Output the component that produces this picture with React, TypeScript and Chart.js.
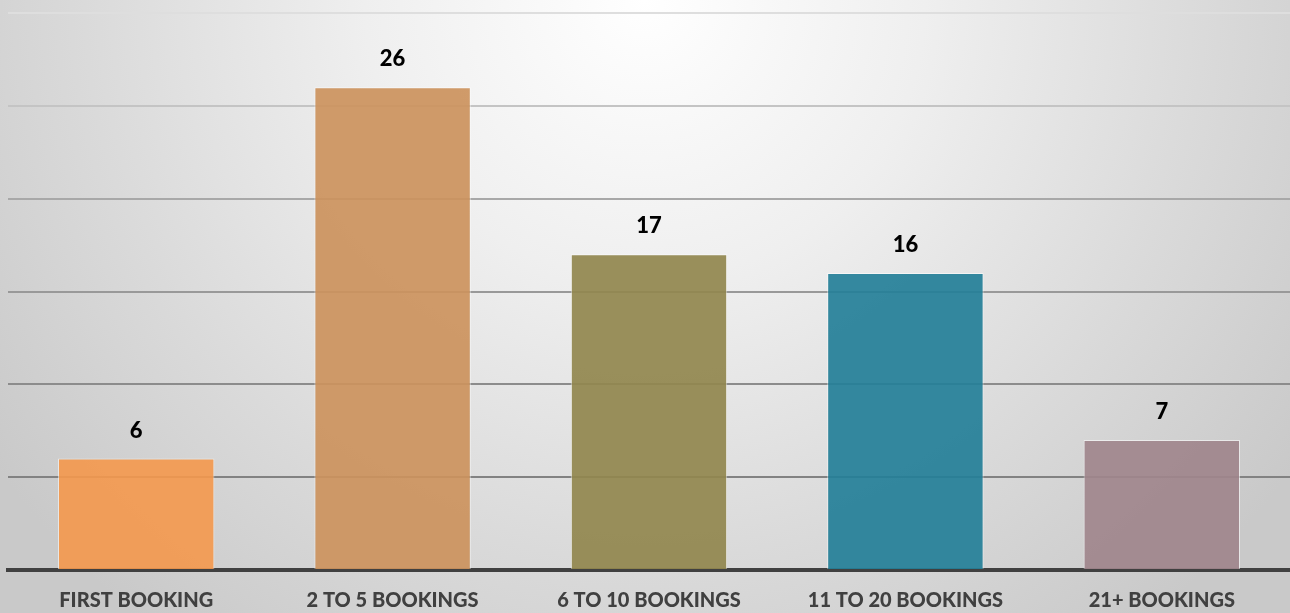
import React, { useEffect, useRef } from "react";
import { Chart, registerables } from "chart.js";

Chart.register(...registerables);

const categories = ["FIRST BOOKING", "2 TO 5 BOOKINGS", "6 TO 10 BOOKINGS", "11 TO 20 BOOKINGS", "21+ BOOKINGS"];
const values = [6, 26, 17, 16, 7];
const barColors = [
  "rgba(244,152,76,0.9)",
  "rgba(204,146,93,0.92)",
  "rgba(145,135,78,0.92)",
  "rgba(36,127,152,0.92)",
  "rgba(160,133,140,0.92)",
];
const yMax = 30;
const yStep = 5;

const bgPlugin = {
  id: "bgGradient",
  beforeDraw(chart: any) {
    const { ctx, width, height } = chart;
    ctx.save();
    const g = ctx.createRadialGradient(width / 2, 0, 0, width / 2, 0, width * 0.62);
    g.addColorStop(0, "#ffffff");
    g.addColorStop(0.35, "#efefef");
    g.addColorStop(0.7, "#dadada");
    g.addColorStop(1, "#c9c9c9");
    ctx.fillStyle = g;
    ctx.fillRect(0, 0, width, height);
    ctx.restore();
  },
};

const labelPlugin = {
  id: "valueLabels",
  afterDatasetsDraw(chart: any) {
    const { ctx } = chart;
    const meta = chart.getDatasetMeta(0);
    ctx.save();
    ctx.font = "900 22px Lato, 'Open Sans', sans-serif";
    ctx.fillStyle = "#000000";
    ctx.textAlign = "center";
    ctx.textBaseline = "middle";
    meta.data.forEach((bar: any, i: number) => {
      ctx.fillText(String(values[i]), bar.x, bar.y - 28);
    });
    ctx.restore();
  },
};

const gridColors: Record<number, string> = {
  0: "#404040",
  5: "#828282",
  10: "#8c8c8c",
  15: "#999999",
  20: "#a8a8a8",
  25: "#c4c4c4",
  30: "#dedede",
};

export default function App() {
  const ref = useRef<HTMLCanvasElement>(null);
  useEffect(() => {
    document.body.style.margin = "0";
    const chart = new Chart(ref.current!, {
      type: "bar",
      data: {
        labels: categories,
        datasets: [
          {
            data: values,
            backgroundColor: barColors,
            borderColor: "rgba(255,255,255,0.55)",
            borderWidth: 1,
            categoryPercentage: 1,
            barPercentage: 0.61,
          },
        ],
      },
      options: {
        animation: false,
        responsive: false,
        maintainAspectRatio: false,
        layout: { padding: { left: 8, right: 0, top: 13, bottom: 0 } },
        plugins: { legend: { display: false }, tooltip: { enabled: false } },
        scales: {
          x: {
            grid: { display: false },
            border: { display: true, color: "#404040", width: 4 },
            ticks: {
              color: "#404040",
              font: { family: "Lato, 'Open Sans', sans-serif", size: 20, weight: "900" },
              padding: 11,
              maxRotation: 0,
            },
            afterFit(scale: any) {
              scale.height = 43;
            },
          },
          y: {
            min: 0,
            max: yMax,
            ticks: { display: false, stepSize: yStep },
            border: { display: false },
            grid: {
              drawTicks: false,
              lineWidth: 2,
              color: (c: any) => gridColors[c.tick?.value] ?? "#999999",
            },
            afterFit(scale: any) {
              scale.width = 0;
            },
          },
        },
      },
      plugins: [bgPlugin, labelPlugin],
    });
    return () => chart.destroy();
  }, []);
  return (
    <div style={{ width: 1290, height: 613 }}>
      <canvas ref={ref} width={1290} height={613} style={{ display: "block" }} />
    </div>
  );
}
